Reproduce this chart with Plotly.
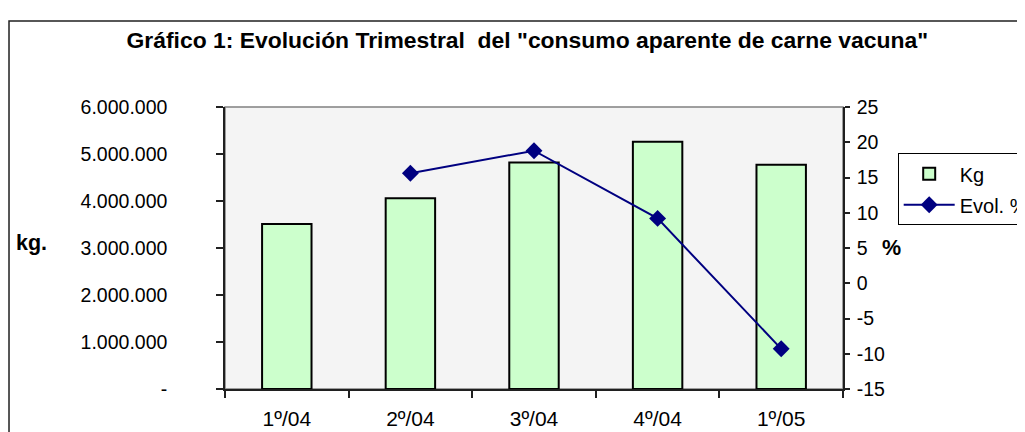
import plotly.graph_objects as go

# ---- data ----
categories = ["1º/04", "2º/04", "3º/04", "4º/04", "1º/05"]
kg_values = [3510000, 4060000, 4820000, 5260000, 4770000]
evol_pct = [None, 15.6, 18.8, 9.2, -9.3]

kg_tickvals = [0, 1000000, 2000000, 3000000, 4000000, 5000000, 6000000]
kg_ticktext = ["-", "1.000.000", "2.000.000", "3.000.000", "4.000.000", "5.000.000", "6.000.000"]
pct_tickvals = [-15, -10, -5, 0, 5, 10, 15, 20, 25]
pct_ticktext = ["-15", "-10", "-5", "0", "5", "10", "15", "20", "25"]
cat_bounds = [-0.5, 0.5, 1.5, 2.5, 3.5, 4.5]

FONT = "Arial, Liberation Sans, sans-serif"
AXC = "#202020"

fig = go.Figure()
fig.add_trace(go.Bar(
    x=categories, y=kg_values, name="Kg", width=0.4, legendgroup="a",
    marker=dict(color="#ccffcc", line=dict(color="black", width=2)),
    xaxis="x", yaxis="y",
))
fig.add_trace(go.Scatter(
    x=categories, y=evol_pct, name="Evol. %", mode="lines+markers", legendgroup="b",
    line=dict(color="#000080", width=2),
    marker=dict(symbol="diamond", size=13, color="#000080"),
    xaxis="x", yaxis="y2",
))

fig.update_layout(
    width=1017, height=424,
    margin=dict(l=217, r=182, t=99, b=43, autoexpand=False),
    paper_bgcolor="white", plot_bgcolor="#f4f4f4",
    font=dict(family=FONT, color="black", size=20),
    title=dict(text="<b>Gráfico 1: Evolución Trimestral  del \"consumo aparente de carne vacuna\"</b>",
               x=0.5106, xanchor="center", y=0.9245, yanchor="middle",
               font=dict(size=22.9, family=FONT, color="black")),
    showlegend=True,
    legend=dict(x=1.0885, xanchor="left", y=0.836, yanchor="top",
                bgcolor="white", bordercolor="black", borderwidth=1,
                font=dict(size=20, family=FONT), itemwidth=51,
                traceorder="grouped", tracegroupgap=2),
    xaxis=dict(type="category", range=[-0.5, 4.5], tickson="boundaries",
               ticks="outside", ticklen=7, tickwidth=1.5, tickcolor=AXC,
               showline=True, linecolor=AXC, linewidth=1.5,
               showgrid=False, zeroline=False, automargin=False,
               tickfont=dict(size=21), ticklabelstandoff=10),
    xaxis2=dict(overlaying="x", anchor="y", range=[-0.5, 4.5], tickvals=cat_bounds,
                ticks="inside", ticklen=7, tickwidth=1.5, tickcolor=AXC,
                showticklabels=False, showline=False, showgrid=False, zeroline=False),
    yaxis=dict(range=[0, 6000000], tickvals=kg_tickvals, ticktext=kg_ticktext,
               ticks="outside", ticklen=7, tickwidth=1.5, tickcolor=AXC,
               showline=True, linecolor=AXC, linewidth=1.5,
               showgrid=False, zeroline=False, automargin=False,
               tickfont=dict(size=19.5), ticklabelstandoff=45),
    yaxis2=dict(overlaying="y", side="right", anchor="x", range=[-15, 25],
                tickvals=pct_tickvals, ticktext=pct_ticktext,
                ticks="outside", ticklen=5, tickwidth=1.5, tickcolor=AXC,
                showline=True, linecolor=AXC, linewidth=1.5,
                showgrid=False, zeroline=False, automargin=False,
                tickfont=dict(size=19.5), ticklabelstandoff=3),
    yaxis3=dict(overlaying="y", side="left", anchor="x", range=[0, 6000000], tickvals=kg_tickvals,
                ticks="inside", ticklen=7, tickwidth=1.5, tickcolor=AXC,
                showticklabels=False, showline=False, showgrid=False, zeroline=False),
    yaxis4=dict(overlaying="y", side="right", anchor="x", range=[-15, 25], tickvals=pct_tickvals,
                ticks="inside", ticklen=5, tickwidth=1.5, tickcolor=AXC,
                showticklabels=False, showline=False, showgrid=False, zeroline=False),
    shapes=[
        dict(type="rect", xref="paper", yref="paper", x0=0, x1=1, y0=0, y1=1,
             line=dict(color="#808080", width=1.5), layer="below"),
        dict(type="rect", xref="paper", yref="paper", x0=-0.3495, x1=1.35, y0=-0.2, y1=1.305,
             line=dict(color="#202020", width=1.5), layer="below"),
    ],
    annotations=[
        dict(text="<b>kg.</b>", xref="paper", yref="paper", x=-0.3414, y=0.518,
             xanchor="left", yanchor="middle", showarrow=False, font=dict(size=21.5)),
        dict(text="<b>%</b>", xref="paper", yref="paper", x=1.0599, y=0.499,
             xanchor="left", yanchor="middle", showarrow=False, font=dict(size=21.5)),
    ],
)

fig.write_html("out.html")
